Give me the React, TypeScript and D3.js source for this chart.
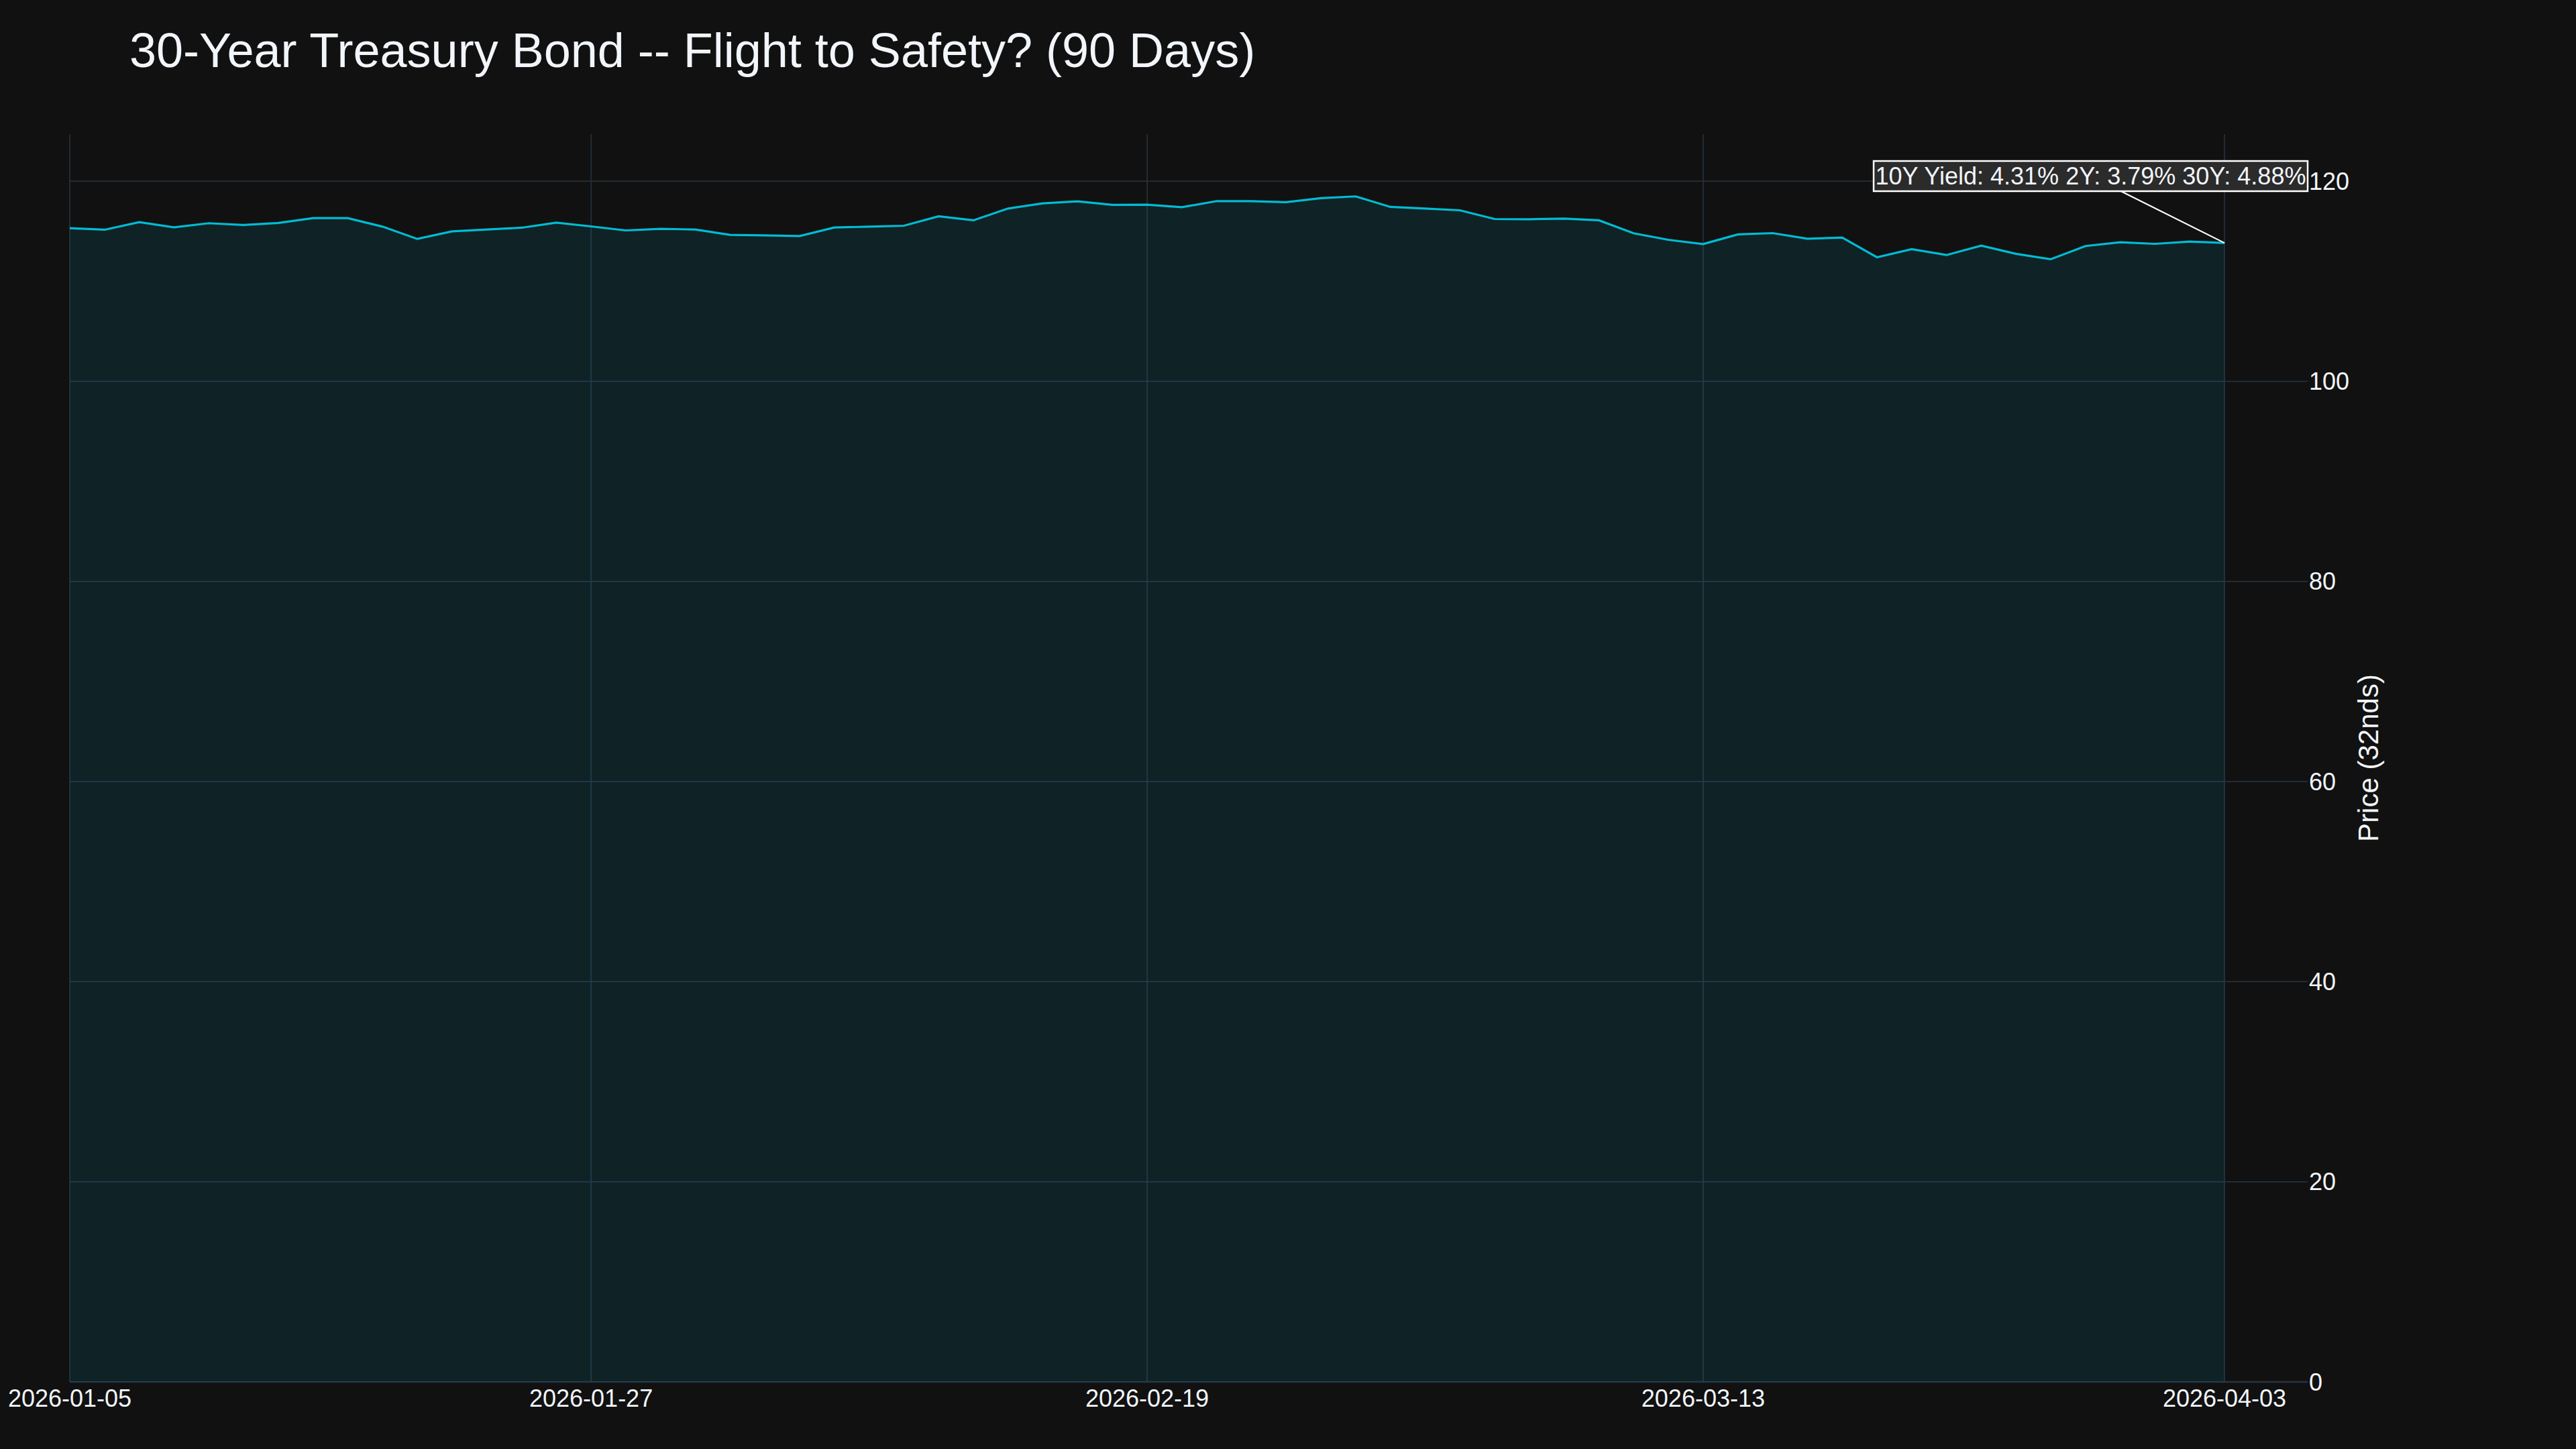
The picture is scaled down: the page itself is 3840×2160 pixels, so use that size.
import React from "react";
import * as d3 from "d3";

const dates: string[] = [
  "2026-01-05","2026-01-06","2026-01-07","2026-01-08","2026-01-09",
  "2026-01-12","2026-01-13","2026-01-14","2026-01-15","2026-01-16",
  "2026-01-20","2026-01-21","2026-01-22","2026-01-23",
  "2026-01-26","2026-01-27","2026-01-28","2026-01-29","2026-01-30",
  "2026-02-02","2026-02-03","2026-02-04","2026-02-05","2026-02-06",
  "2026-02-09","2026-02-10","2026-02-11","2026-02-12","2026-02-13",
  "2026-02-17","2026-02-18","2026-02-19","2026-02-20",
  "2026-02-23","2026-02-24","2026-02-25","2026-02-26","2026-02-27",
  "2026-03-02","2026-03-03","2026-03-04","2026-03-05","2026-03-06",
  "2026-03-09","2026-03-10","2026-03-11","2026-03-12","2026-03-13",
  "2026-03-16","2026-03-17","2026-03-18","2026-03-19","2026-03-20",
  "2026-03-23","2026-03-24","2026-03-25","2026-03-26","2026-03-27",
  "2026-03-30","2026-03-31","2026-04-01","2026-04-02","2026-04-03",
];

const prices: number[] = [
  115.31, 115.15, 115.91, 115.39, 115.80, 115.62, 115.82, 116.31, 116.31, 115.46,
  114.23, 114.99, 115.17, 115.35, 115.86, 115.48, 115.08, 115.24, 115.17, 114.63,
  114.59, 114.52, 115.37, 115.46, 115.55, 116.49, 116.09, 117.27, 117.78, 117.99,
  117.63, 117.65, 117.40, 118.01, 118.01, 117.90, 118.30, 118.48, 117.43, 117.27,
  117.09, 116.22, 116.20, 116.26, 116.09, 114.79, 114.14, 113.72, 114.68, 114.81,
  114.25, 114.37, 112.40, 113.21, 112.62, 113.56, 112.74, 112.20, 113.52, 113.90,
  113.74, 113.96, 113.83,
];

const xTickLabels: string[] = ["2026-01-05", "2026-01-27", "2026-02-19", "2026-03-13", "2026-04-03"];
const yTicks: number[] = [0, 20, 40, 60, 80, 100, 120];
const yMax = 124.7;

const titleText = "30-Year Treasury Bond -- Flight to Safety? (90 Days)";
const yAxisTitle = "Price (32nds)";
const annotationText = "10Y Yield: 4.31% 2Y: 3.79% 30Y: 4.88%";

const W = 3840;
const H = 2160;
const plotLeft = 104;
const plotRight = 3440;
const dataRight = 3316;
const plotTop = 200;
const plotBottom = 2060;

const FONT = "'Liberation Sans', Arial, Helvetica, sans-serif";
const TEXT = "#f2f5fa";
const GRID = "#283442";
const LINE = "#00bcd4";

export default function App() {
  const x = d3.scalePoint<string>().domain(dates).range([plotLeft, dataRight]);
  const y = d3.scaleLinear().domain([0, yMax]).range([plotBottom, plotTop]);

  const pts = dates.map((d, i) => ({ d, v: prices[i] }));
  const lineGen = d3
    .line<{ d: string; v: number }>()
    .x((p) => x(p.d) as number)
    .y((p) => y(p.v));
  const areaGen = d3
    .area<{ d: string; v: number }>()
    .x((p) => x(p.d) as number)
    .y0(y(0))
    .y1((p) => y(p.v));

  // annotation box geometry
  const boxL = 2793;
  const boxR = 3440;
  const boxT = 240;
  const boxB = 285;
  const cx = (boxL + boxR) / 2;
  const cy = (boxT + boxB) / 2;
  const last = pts[pts.length - 1];
  const ex = x(last.d) as number;
  const ey = y(last.v);
  const t = (boxB - cy) / (ey - cy);
  const sx = cx + (ex - cx) * t;
  const sy = boxB;

  return (
    <div style={{ position: "absolute", left: 0, top: 0, width: W, height: H }}>
      <svg width={W} height={H} style={{ display: "block", background: "#111111" }}>
        <rect x={0} y={0} width={W} height={H} fill="#111111" />
        {/* vertical grid */}
        {xTickLabels.map((d) => (
          <line
            key={"vg" + d}
            x1={x(d)}
            x2={x(d)}
            y1={plotTop}
            y2={plotBottom}
            stroke={GRID}
            strokeWidth={1.5}
          />
        ))}
        {/* horizontal grid */}
        {yTicks.map((v) => (
          <line
            key={"hg" + v}
            x1={plotLeft}
            x2={plotRight}
            y1={y(v)}
            y2={y(v)}
            stroke={GRID}
            strokeWidth={v === 0 ? 2.5 : 1.5}
          />
        ))}
        {/* area + line */}
        <path d={areaGen(pts) || ""} fill="rgba(0,188,212,0.1)" />
        <path
          d={lineGen(pts) || ""}
          fill="none"
          stroke={LINE}
          strokeWidth={3.2}
          strokeLinejoin="miter"
        />
        {/* x tick labels */}
        {xTickLabels.map((d) => (
          <text
            key={"xt" + d}
            x={x(d)}
            y={2097}
            textAnchor="middle"
            fontFamily={FONT}
            fontSize={36}
            fill={TEXT}
          >
            {d}
          </text>
        ))}
        {/* y tick labels (right side) */}
        {yTicks.map((v) => (
          <text
            key={"yt" + v}
            x={3442}
            y={y(v)}
            dy="0.35em"
            textAnchor="start"
            fontFamily={FONT}
            fontSize={36}
            fill={TEXT}
          >
            {v}
          </text>
        ))}
        {/* y axis title */}
        <text
          transform={`translate(3545, ${(plotTop + plotBottom) / 2}) rotate(-90)`}
          textAnchor="middle"
          fontFamily={FONT}
          fontSize={42}
          fill={TEXT}
        >
          {yAxisTitle}
        </text>
        {/* title */}
        <text x={193} y={100} fontFamily={FONT} fontSize={72} fill={TEXT}>
          {titleText}
        </text>
        {/* annotation */}
        <line x1={sx} y1={sy} x2={ex} y2={ey} stroke="#ffffff" strokeWidth={2} />
        <rect
          x={boxL}
          y={boxT}
          width={boxR - boxL}
          height={boxB - boxT}
          fill="#2b2b2b"
          stroke="#ffffff"
          strokeWidth={2.5}
        />
        <text
          x={(boxL + boxR) / 2}
          y={275}
          textAnchor="middle"
          fontFamily={FONT}
          fontSize={36}
          fill={TEXT}
        >
          {annotationText}
        </text>
      </svg>
    </div>
  );
}
